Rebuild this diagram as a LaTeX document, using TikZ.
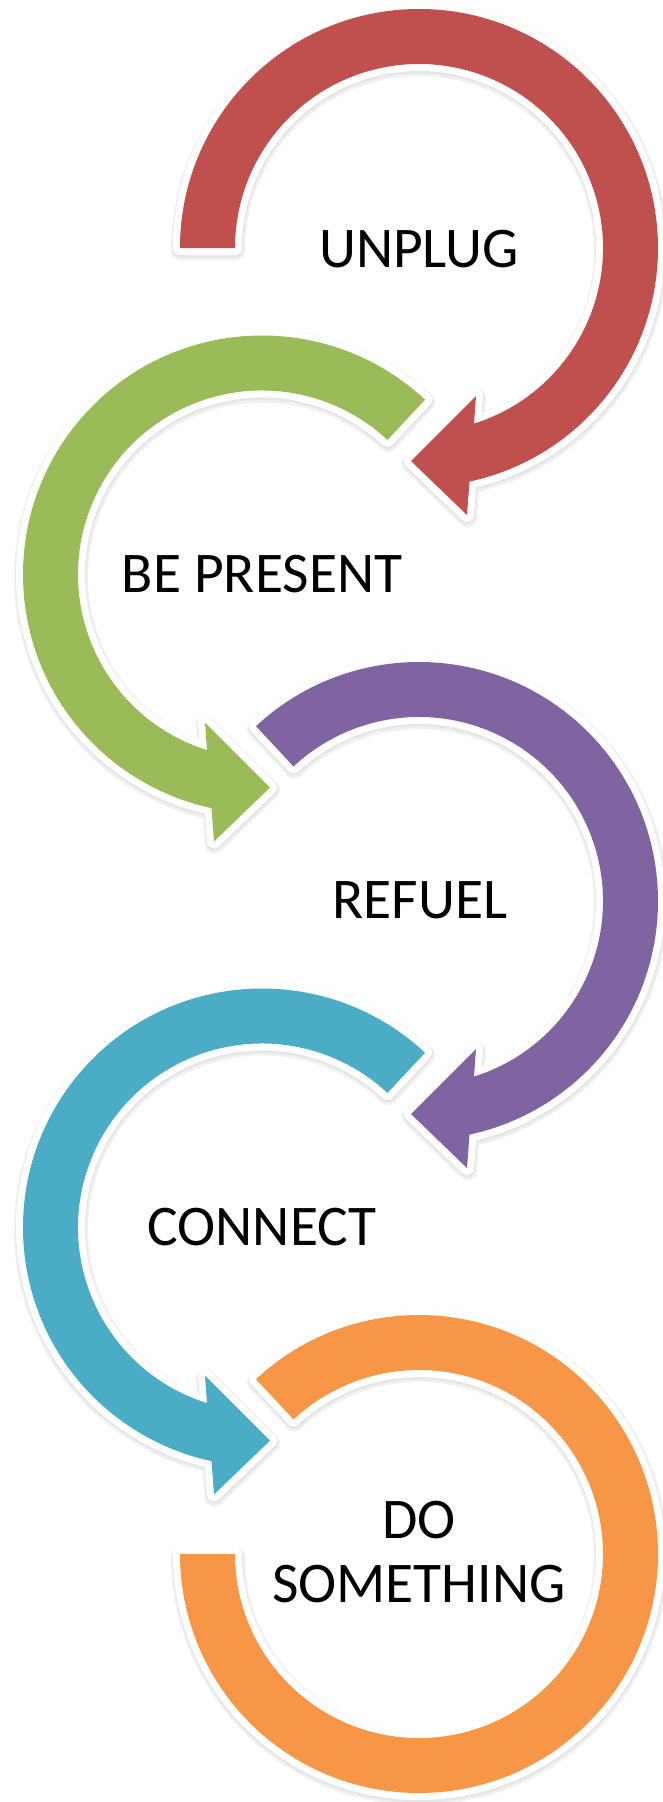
\documentclass[tikz,border=0pt]{standalone}
\usepackage{fontspec}
\setmainfont{Carlito}
\definecolor{cred}{HTML}{C0504D}
\definecolor{cgreen}{HTML}{9BBB59}
\definecolor{cpurple}{HTML}{8064A2}
\definecolor{ccyan}{HTML}{4BACC6}
\definecolor{corange}{HTML}{F79646}
\tikzset{
  shadowstroke/.style={draw=black!6, line width=19pt, line join=round},
  shadowstroketwo/.style={draw=black!10, line width=15.5pt, line join=round},
  whitestroke/.style={draw=white, line width=14pt, line join=round},
  lbl/.style={font=\fontsize{57.5}{64}\selectfont, inner sep=0pt, text=black},
}
\newcommand\shapeRed{(180:239) arc[start angle=180,end angle=-77.8,radius=239] -- (48,-267) -- (-8,-213) -- (57,-148) -- (-72.6:184) arc[start angle=-72.6,end angle=180,radius=184] -- cycle}
\newcommand\shapeRight{(133:239) arc[start angle=133,end angle=-77.8,radius=239] -- (48,-267) -- (-8,-213) -- (57,-148) -- (-72.6:184) arc[start angle=-72.6,end angle=133,radius=184] -- cycle}
\newcommand\shapeLeft{(47:239) arc[start angle=47,end angle=257.8,radius=239] -- (-48,-267) -- (8,-213) -- (-57,-148) -- (252.6:184) arc[start angle=252.6,end angle=47,radius=184] -- cycle}
\newcommand\shapeRing{(133:239) arc[start angle=133,end angle=-180,radius=239] -- (-180:184) arc[start angle=-180,end angle=133,radius=184] -- cycle}
\newcommand\drawshape[2]{%
  \draw[shadowstroke, shift={(0.5,-2.5)}] #1;
  \draw[shadowstroketwo, shift={(0.3,-1.5)}] #1;
  \draw[whitestroke] #1;
  \fill[#2] #1;}
\begin{document}
\begin{tikzpicture}[x=1pt,y=1pt]
\useasboundingbox (0,0) rectangle (662,-1802);
\fill[white] (0,0) rectangle (662,-1802);
\coordinate (c1) at (419,-248);
\coordinate (c2) at (262,-574.5);
\coordinate (c3) at (419,-901);
\coordinate (c4) at (262,-1227.5);
\coordinate (c5) at (419,-1554);
\begin{scope}[shift={(c1)}]\drawshape{\shapeRed}{cred}\end{scope}
\begin{scope}[shift={(c2)}]\drawshape{\shapeLeft}{cgreen}\end{scope}
\begin{scope}[shift={(c3)}]\drawshape{\shapeRight}{cpurple}\end{scope}
\begin{scope}[shift={(c4)}]\drawshape{\shapeLeft}{ccyan}\end{scope}
\begin{scope}[shift={(c5)}]\drawshape{\shapeRing}{corange}\end{scope}
\node[lbl, anchor=base] (t1) at (419,-267) {UNPLUG};
\node[lbl, anchor=base] (t2) at (262,-592) {BE PRESENT};
\node[lbl, anchor=base] (t3) at (420,-918) {REFUEL};
\node[lbl, anchor=base] (t4) at (262,-1245) {CONNECT};
\node[lbl, align=center, anchor=center] (t5) at (419,-1552) {DO\\SOMETHING};
\end{tikzpicture}
\end{document}
